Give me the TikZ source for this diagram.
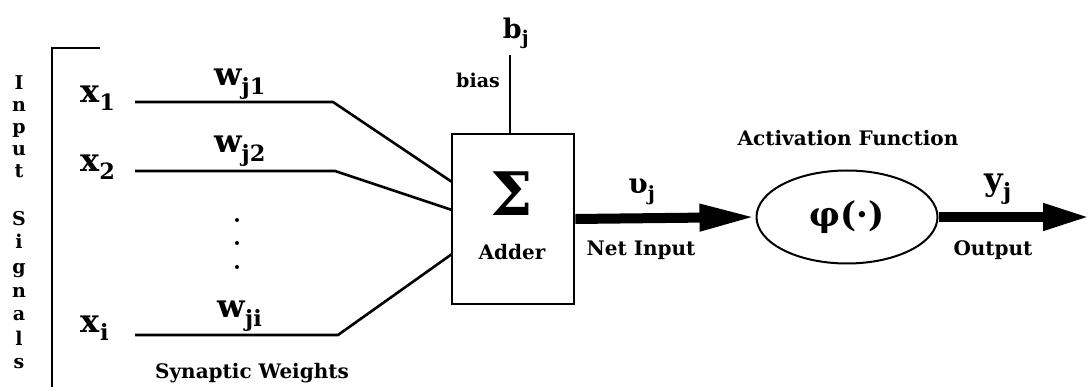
\documentclass[tikz,border=0pt]{standalone}
\usepackage{fontspec}
\setmainfont{DejaVu Serif}
\usetikzlibrary{arrows.meta,shapes.geometric}

\begin{document}
\begin{tikzpicture}[x=1pt,y=-1pt,font=\bfseries\fontsize{20}{22}\selectfont,
  t/.style={inner sep=0pt},
  sm/.style={inner sep=0pt,font=\bfseries\fontsize{19}{21}\selectfont},
  big/.style={inner sep=0pt,font=\bfseries\fontsize{32}{34}\selectfont},
  w/.style={line width=2.6pt},
  fat/.style={line width=10pt,-{Triangle[length=56pt,width=25pt]}}]
\useasboundingbox (0,0) rectangle (1090,387);
% input signals
\foreach \c/\y in {I/84,n/106,p/128,u/150,t/172,S/220,i/243,g/268,n/292,a/315,l/339,s/363}
  \node[sm,anchor=base] (sig\y) at (19,\y+6) {\c};
\coordinate (brt) at (100,48);
\coordinate (brb) at (52,390);
\draw[line width=2.8pt] (brt) -- (brt -| brb) -- (brb);
\node[big] (x1) at (98,98) {x\textsubscript{1}};
\node[big] (x2) at (98,167) {x\textsubscript{2}};
\node[big] (xi) at (95,328) {x\textsubscript{i}};
% adder
\node[draw,line width=2.6pt,minimum width=122,minimum height=170] (add) at (513,219) {};
\node[t,font=\bfseries\fontsize{60}{62}\selectfont] (sum) at (512,194) {Σ};
\node[t] (addl) at (512,252) {Adder};
% weights
\coordinate (s1) at (135,102); \coordinate (k1) at (333,102); \coordinate (e1) at (452,182);
\coordinate (s2) at (135,171); \coordinate (k2) at (335,171); \coordinate (e2) at (452,210);
\coordinate (si) at (135,335); \coordinate (ki) at (338,335); \coordinate (ei) at (452,254);
\draw[w] (s1) -- (k1) -- (e1);
\draw[w] (s2) -- (k2) -- (e2);
\draw[w] (si) -- (ki) -- (ei);
\node[big] (w1) at (240,84) {w\textsubscript{j1}};
\node[big] (w2) at (240,151) {w\textsubscript{j2}};
\node[big] (wi) at (240,316) {w\textsubscript{ji}};
\foreach \y in {220,243,267} \fill (237,\y) circle (2);
\node[t] (syn) at (252,373) {Synaptic Weights};
% bias
\coordinate (bt) at (510,55);
\draw[w] (bt) -- (bt |- add.north);
\node[big,font=\bfseries\fontsize{27}{29}\selectfont] (bj) at (516,33) {b\textsubscript{j}};
\node[sm] (bias) at (478,80) {bias};
% activation
\node[draw,ellipse,line width=2pt,minimum width=181,minimum height=93,inner sep=0pt,
  font=\bfseries\fontsize{34}{36}\selectfont] (act) at (847,217) {φ(·)};
\node[t] (actl) at (848,138) {Activation Function};
\draw[fat] (add.east) -- (act.west);
\node[big,font=\bfseries\fontsize{28}{30}\selectfont] (v) at (642,192) {υ\textsubscript{j}};
\node[t] (net) at (641,250) {Net Input};
\coordinate (out) at (1090,217);
\draw[fat,-{Triangle[length=47pt,width=25pt]}] (act.east) -- (out);
\node[big] (y) at (998,189) {y\textsubscript{j}};
\node[t] (outl) at (993,250) {Output};
\end{tikzpicture}
\end{document}
